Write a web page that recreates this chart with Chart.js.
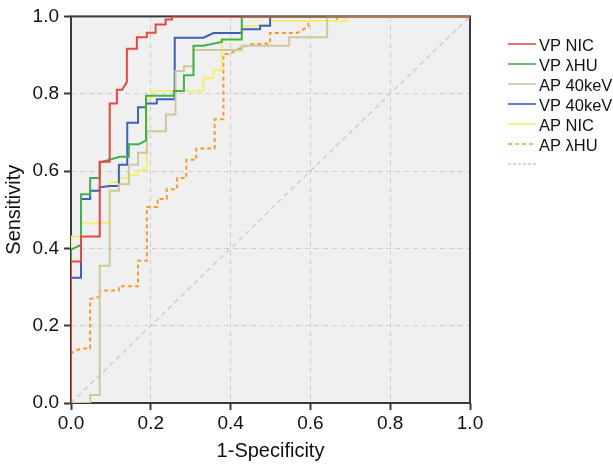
<!DOCTYPE html>
<html>
<head>
<meta charset="utf-8">
<script src="https://cdn.jsdelivr.net/npm/chart.js@4/dist/chart.umd.min.js"></script>
<style>
  html, body { margin: 0; padding: 0; background: #fff; }
  #roc { display: block; }
</style>
</head>
<body>
<canvas id="roc" width="613" height="468"></canvas>
<script>
// series labels (legend order)
const seriesNames = ['VP NIC', 'VP \u03bbHU', 'AP 40keV', 'VP 40keV', 'AP NIC', 'AP \u03bbHU'];
const axisTicks = [0, 0.2, 0.4, 0.6, 0.8, 1.0];

// ROC vertices (1-specificity, sensitivity)
const vpNicX = [0, 0, 0.025, 0.025, 0.072, 0.072, 0.097, 0.097, 0.115, 0.115, 0.128, 0.14, 0.14, 0.165, 0.165, 0.19, 0.19, 0.212, 0.212, 0.237, 0.237, 0.253, 0.253, 1];
const vpNicY = [0, 0.366, 0.366, 0.431, 0.431, 0.624, 0.624, 0.775, 0.775, 0.81, 0.81, 0.83, 0.916, 0.916, 0.946, 0.946, 0.958, 0.958, 0.979, 0.979, 0.992, 0.992, 1, 1];

const vpHuX = [0, 0, 0.023, 0.025, 0.025, 0.048, 0.048, 0.072, 0.072, 0.122, 0.145, 0.145, 0.17, 0.188, 0.188, 0.258, 0.258, 0.283, 0.283, 0.307, 0.307, 0.331, 0.378, 0.378, 0.428, 0.428, 1];
const vpHuY = [0, 0.397, 0.408, 0.408, 0.54, 0.54, 0.582, 0.582, 0.622, 0.637, 0.637, 0.669, 0.669, 0.679, 0.795, 0.795, 0.807, 0.807, 0.848, 0.848, 0.924, 0.924, 0.934, 0.94, 0.94, 1, 1];

const ap40X = [0, 0.048, 0.048, 0.072, 0.072, 0.097, 0.097, 0.12, 0.12, 0.145, 0.145, 0.168, 0.168, 0.19, 0.19, 0.238, 0.238, 0.262, 0.262, 0.283, 0.283, 0.307, 0.307, 0.428, 0.428, 0.547, 0.547, 0.642, 0.642, 1];
const ap40Y = [0, 0, 0.021, 0.021, 0.355, 0.355, 0.549, 0.549, 0.566, 0.566, 0.616, 0.616, 0.647, 0.647, 0.703, 0.703, 0.746, 0.746, 0.859, 0.859, 0.871, 0.871, 0.913, 0.913, 0.924, 0.924, 0.946, 0.946, 1, 1];

const vp40X = [0, 0, 0.025, 0.025, 0.048, 0.048, 0.072, 0.072, 0.097, 0.12, 0.12, 0.141, 0.141, 0.168, 0.168, 0.188, 0.188, 0.215, 0.215, 0.26, 0.26, 0.332, 0.357, 0.428, 0.428, 0.474, 0.474, 0.499, 0.499, 1];
const vp40Y = [0, 0.324, 0.324, 0.528, 0.528, 0.549, 0.549, 0.558, 0.561, 0.561, 0.616, 0.616, 0.725, 0.725, 0.765, 0.765, 0.775, 0.775, 0.786, 0.786, 0.945, 0.945, 0.957, 0.957, 0.967, 0.967, 0.976, 0.976, 1, 1];

const apNicX = [0, 0, 0.025, 0.025, 0.097, 0.097, 0.12, 0.12, 0.145, 0.145, 0.168, 0.168, 0.19, 0.19, 0.202, 0.202, 0.332, 0.332, 0.357, 0.357, 0.378, 0.378, 0.428, 0.428, 0.474, 0.474, 0.499, 0.499, 0.691, 0.691, 1];
const apNicY = [0, 0.431, 0.431, 0.465, 0.465, 0.571, 0.571, 0.582, 0.582, 0.59, 0.59, 0.603, 0.603, 0.786, 0.786, 0.807, 0.807, 0.84, 0.84, 0.861, 0.861, 0.94, 0.94, 0.975, 0.975, 0.978, 0.978, 0.988, 0.988, 1, 1];

const apHuX = [0, 0, 0.0245, 0.048, 0.048, 0.072, 0.072, 0.12, 0.12, 0.168, 0.168, 0.19, 0.19, 0.217, 0.217, 0.24, 0.24, 0.266, 0.266, 0.289, 0.289, 0.314, 0.314, 0.36, 0.36, 0.382, 0.382, 0.398, 0.424, 0.449, 0.499, 0.499, 0.566, 0.595, 0.595, 0.666, 0.666, 1];
const apHuY = [0, 0.129, 0.141, 0.141, 0.269, 0.275, 0.291, 0.291, 0.302, 0.302, 0.368, 0.368, 0.507, 0.507, 0.528, 0.528, 0.553, 0.553, 0.582, 0.582, 0.629, 0.629, 0.658, 0.658, 0.734, 0.734, 0.903, 0.903, 0.918, 0.928, 0.93, 0.957, 0.957, 0.974, 0.988, 0.988, 1, 1];

const refX = [0, 1];
const refY = [0, 1];

function pts(xs, ys) {
    return xs.map((x, i) => ({ x: x, y: ys[i] }));
}

const lineColors = ['#e8473f', '#3fb24c', '#cfc89c', '#3d5fbd', '#f2f071', '#f49d2c'];
const seriesData = [
    pts(vpNicX, vpNicY),
    pts(vpHuX, vpHuY),
    pts(ap40X, ap40Y),
    pts(vp40X, vp40Y),
    pts(apNicX, apNicY),
    pts(apHuX, apHuY)
];

const datasets = seriesNames.map((name, i) => ({
    label: name,
    data: seriesData[i],
    borderColor: lineColors[i],
    backgroundColor: lineColors[i],
    borderWidth: 2,
    borderDash: i === 5 ? [4, 3] : [],
    showLine: true,
    pointRadius: 0,
    tension: 0,
    order: i
}));
datasets.push({
    label: '',
    data: pts(refX, refY),
    borderColor: '#c9c9c9',
    backgroundColor: '#c9c9c9',
    borderWidth: 1.3,
    borderDash: [5, 4],
    showLine: true,
    pointRadius: 0,
    order: 10
});

// plot background + frame
const plotFrame = {
    id: 'plotFrame',
    beforeDraw(chart) {
        const { ctx, chartArea: a } = chart;
        ctx.save();
        ctx.fillStyle = '#f0f0f0';
        ctx.fillRect(a.left, a.top, a.right - a.left, a.bottom - a.top);
        ctx.restore();
    },
    beforeDatasetsDraw(chart) {
        const { ctx, chartArea: a } = chart;
        ctx.save();
        ctx.strokeStyle = '#3a3a3a';
        ctx.lineWidth = 2;
        ctx.strokeRect(a.left, a.top, a.right - a.left, a.bottom - a.top);
        ctx.restore();
    }
};

// legend on the right, drawn by hand to match the layout
const sideLegend = {
    id: 'sideLegend',
    afterDraw(chart) {
        const ctx = chart.ctx;
        ctx.save();
        chart.data.datasets.forEach((ds, i) => {
            const y = 44 + i * 20;
            ctx.strokeStyle = ds.borderColor;
            ctx.lineWidth = 1.6;
            ctx.setLineDash(i === 6 ? [3, 2] : ds.borderDash);
            ctx.beginPath();
            ctx.moveTo(508, y);
            ctx.lineTo(536, y);
            ctx.stroke();
            ctx.setLineDash([]);
            ctx.fillStyle = '#111';
            ctx.font = '16.5px "Liberation Sans", Arial, sans-serif';
            ctx.textBaseline = 'middle';
            ctx.textAlign = 'left';
            ctx.fillText(ds.label, 539, y + 2);
        });
        ctx.restore();
    }
};

const tickFont = { family: '"Liberation Sans", Arial, sans-serif', size: 19 };
const titleFont = { family: '"Liberation Sans", Arial, sans-serif', size: 20 };

function axis(title, isY) {
    return {
        type: 'linear',
        min: 0,
        max: 1,
        afterBuildTicks(scale) {
            scale.ticks = axisTicks.map(v => ({ value: v }));
        },
        afterFit(scale) {
            if (isY) scale.width = 71;
            else scale.height = 65;
        },
        ticks: {
            font: tickFont,
            color: '#111',
            padding: isY ? 5 : 2,
            autoSkip: false,
            maxRotation: 0,
            callback: v => v.toFixed(1)
        },
        grid: {
            color: '#cdcdcd',
            lineWidth: 1,
            tickLength: 7,
            tickColor: '#3a3a3a',
            tickWidth: 2,
            tickBorderDash: []
        },
        border: { display: false, dash: [5, 4] },
        title: {
            display: true,
            text: title,
            font: titleFont,
            color: '#111',
            padding: isY ? { top: 2, bottom: 0 } : { top: 0, bottom: 5 }
        }
    };
}

new Chart(document.getElementById('roc'), {
    type: 'scatter',
    data: { datasets: datasets },
    options: {
        responsive: false,
        animation: false,
        layout: { padding: { top: 6, right: 143, left: 0, bottom: 0 } },
        plugins: {
            legend: { display: false },
            tooltip: { enabled: false }
        },
        scales: {
            x: axis('1-Specificity', false),
            y: axis('Sensitivity', true)
        }
    },
    plugins: [plotFrame, sideLegend]
});
</script>
</body>
</html>
